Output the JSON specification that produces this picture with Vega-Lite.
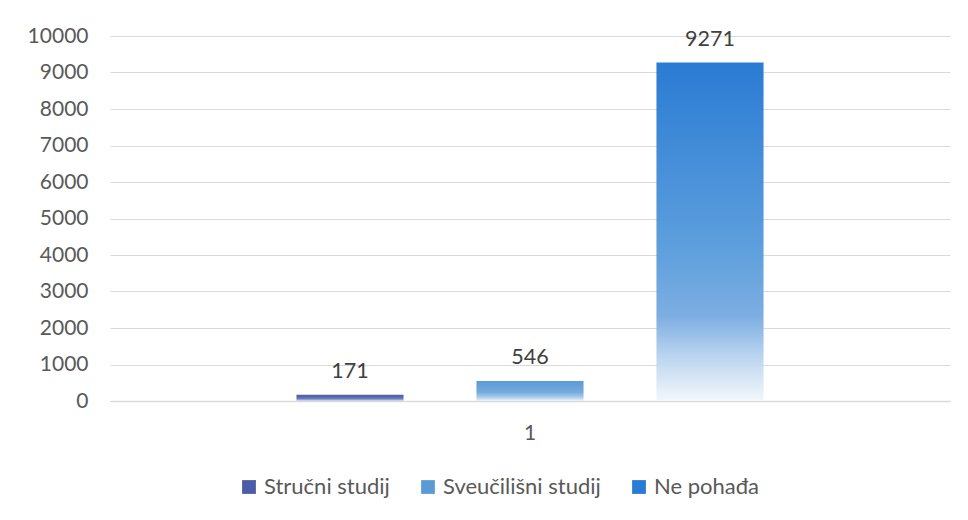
{
  "$schema": "https://vega.github.io/schema/vega-lite/v6.json",
  "width": 840,
  "height": 365,
  "autosize": "none",
  "padding": {"left": 110, "top": 36, "right": 18, "bottom": 119},
  "background": "white",
  "config": {"view": {"stroke": null}, "font": "Lato"},
  "data": {
    "values": [
      {"group": "1", "series": "Stručni studij", "value": 171},
      {"group": "1", "series": "Sveučilišni studij", "value": 546},
      {"group": "1", "series": "Ne pohađa", "value": 9271}
    ]
  },
  "encoding": {
    "x": {
      "field": "group",
      "type": "nominal",
      "scale": {"paddingInner": 0, "paddingOuter": 0.2778},
      "axis": {"title": null, "labelAngle": 0, "labelFontSize": 21, "labelColor": "#595959", "ticks": false, "domainColor": "#d9d9d9", "domainWidth": 1.5, "labelPadding": 21}
    },
    "xOffset": {
      "field": "series",
      "type": "nominal",
      "sort": ["Stručni studij", "Sveučilišni studij", "Ne pohađa"],
      "scale": {"paddingInner": 0.405, "paddingOuter": 0.2025}
    },
    "y": {
      "field": "value",
      "type": "quantitative",
      "scale": {"domain": [0, 10000]},
      "axis": {"title": null, "values": [0, 1000, 2000, 3000, 4000, 5000, 6000, 7000, 8000, 9000, 10000], "format": "d", "grid": true, "gridColor": "#d9d9d9", "domain": false, "ticks": false, "labelPadding": 22, "labelFontSize": 21, "labelColor": "#595959"}
    }
  },
  "layer": [
    {
      "mark": {"type": "bar", "opacity": 0},
      "encoding": {
        "color": {
          "field": "series",
          "type": "nominal",
          "sort": ["Stručni studij", "Sveučilišni studij", "Ne pohađa"],
          "scale": {"domain": ["Stručni studij", "Sveučilišni studij", "Ne pohađa"], "range": ["#4b5da6", "#5b9bd5", "#2a7bd3"]},
          "legend": {
            "title": null,
            "orient": "none",
            "direction": "horizontal",
            "legendX": 128,
            "legendY": 440,
            "symbolType": "square",
            "symbolSize": 190,
            "symbolOpacity": 1,
            "symbolStrokeWidth": 0,
            "labelFontSize": 22,
            "labelColor": "#595959",
            "columnPadding": 27,
            "labelOffset": 4,
            "encode": {
              "symbols": {
                "update": {
                  "fill": {"signal": "{gradient: 'linear', x1: 0, y1: 0, x2: 0, y2: 1, stops: [{offset: 0, color: scale('color', datum.value)}, {offset: 0.65, color: scale('color', datum.value)}, {offset: 1, color: '#ffffff'}]}"},
                  "opacity": {"value": 1}
                }
              }
            }
          }
        }
      }
    },
    {
      "mark": {"type": "bar"},
      "encoding": {
        "color": {
          "condition": [
            {"test": "datum.series === 'Stručni studij'", "value": {"gradient": "linear", "x1": 0, "y1": 0, "x2": 0, "y2": 1, "stops": [{"offset": 0, "color": "#4b5da6"}, {"offset": 0.55, "color": "#6272b5"}, {"offset": 0.8, "color": "#9aa6d2"}, {"offset": 1, "color": "#e8ebf5"}]}},
            {"test": "datum.series === 'Sveučilišni studij'", "value": {"gradient": "linear", "x1": 0, "y1": 0, "x2": 0, "y2": 1, "stops": [{"offset": 0, "color": "#5b9bd5"}, {"offset": 0.55, "color": "#74aadc"}, {"offset": 0.8, "color": "#a9cbec"}, {"offset": 1, "color": "#eef5fb"}]}}
          ],
          "value": {"gradient": "linear", "x1": 0, "y1": 0, "x2": 0, "y2": 1, "stops": [{"offset": 0, "color": "#2a7bd3"}, {"offset": 0.55, "color": "#5e9fdd"}, {"offset": 0.75, "color": "#7daee2"}, {"offset": 0.87, "color": "#bcd5f0"}, {"offset": 1, "color": "#f3f7fc"}]}
        }
      }
    },
    {
      "mark": {"type": "text", "baseline": "bottom", "dy": -12, "fontSize": 21.5, "color": "#404040"},
      "encoding": {"text": {"field": "value", "type": "quantitative", "format": "d"}}
    }
  ]
}
